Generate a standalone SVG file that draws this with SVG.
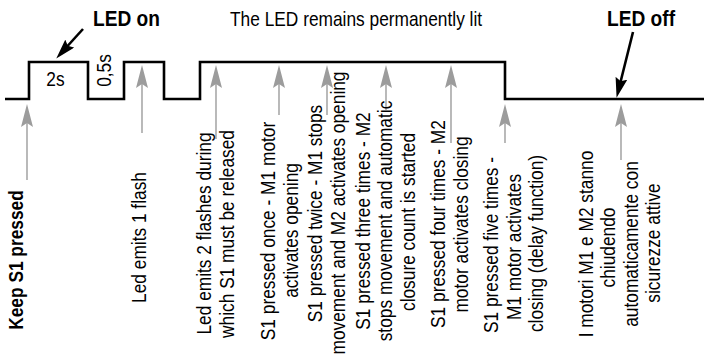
<svg xmlns="http://www.w3.org/2000/svg" width="704" height="355" viewBox="0 0 704 355">
<style>
text{font-family:"Liberation Sans",Arial,sans-serif;font-size:20.5px;fill:#000}
.b{font-weight:bold}
.big{font-size:22px;font-weight:bold}
.m{text-anchor:middle}
.wave{fill:none;stroke:#000;stroke-width:2.6;stroke-linejoin:miter}
.ga{stroke:#9c9c9c;stroke-width:1.4;fill:none;marker-end:url(#gh)}
.ba{stroke:#000;stroke-width:2.6;fill:none;marker-end:url(#bh)}
</style>
<defs>
<marker id="gh" markerUnits="userSpaceOnUse" viewBox="0 0 23 12" refX="13" refY="6" markerWidth="23" markerHeight="12" orient="auto">
<path d="M0,0 L23,6 L0,12 L4,6 Z" fill="#9c9c9c"/>
</marker>
<marker id="bh" markerUnits="userSpaceOnUse" viewBox="0 0 20 12" refX="10" refY="6" markerWidth="20" markerHeight="12" orient="auto">
<path d="M0,0 L20,6 L0,12 L3,6 Z" fill="#000"/>
</marker>
</defs>
<rect width="704" height="355" fill="#fff"/>
<g id="waveform">
<path class="wave" d="M5,99 H29 V62 H88 V99 H124 V62 H164 V99 H200 V62 H505 V99 H704"/>
</g>
<g id="connectors">
<line class="ga" x1="27" y1="180" x2="27" y2="114"/>
<line class="ga" x1="142" y1="133" x2="142" y2="75"/>
<line class="ga" x1="216" y1="139" x2="216" y2="75"/>
<line class="ga" x1="279" y1="115" x2="279" y2="75"/>
<line class="ga" x1="327" y1="115" x2="327" y2="75"/>
<line class="ga" x1="386" y1="110" x2="386" y2="75"/>
<line class="ga" x1="451" y1="143" x2="451" y2="75"/>
<line class="ga" x1="505" y1="143" x2="505" y2="114"/>
<line class="ga" x1="621" y1="160" x2="621" y2="114"/>
<line class="ba" x1="83" y1="29" x2="63" y2="51"/>
<line class="ba" x1="633" y1="32" x2="619" y2="88"/>
</g>
<g id="top-labels">
<text class="big" transform="translate(93,25.5) scale(0.87,1)">LED on</text>
<text transform="translate(230,26) scale(0.845,1)">The LED remains permanently lit</text>
<text class="big" transform="translate(607,26) scale(0.87,1)">LED off</text>
<text class="m" transform="translate(55.5,86) scale(0.845,1)">2s</text>
<text class="m" transform="translate(110.5,70.5) rotate(-90) scale(0.845,1)">0,5s</text>
</g>
<g id="step-keep">
<text class="b m" transform="translate(23,260) rotate(-90) scale(0.845,1)">Keep S1 pressed</text>
</g>
<g id="step-flash1">
<text class="m" transform="translate(146,237.5) rotate(-90) scale(0.845,1)">Led emits 1 flash</text>
</g>
<g id="step-flash2">
<text class="m" transform="translate(210.5,233.5) rotate(-90) scale(0.845,1)">Led emits 2 flashes during</text>
<text class="m" transform="translate(233.5,234) rotate(-90) scale(0.845,1)">which S1 must be released</text>
</g>
<g id="step-once">
<text class="m" transform="translate(274.5,231) rotate(-90) scale(0.845,1)">S1 pressed once - M1 motor</text>
<text class="m" transform="translate(297.5,230.5) rotate(-90) scale(0.845,1)">activates opening</text>
</g>
<g id="step-twice">
<text class="m" transform="translate(321.5,213.5) rotate(-90) scale(0.845,1)">S1 pressed twice - M1 stops</text>
<text class="m" transform="translate(344.5,213) rotate(-90) scale(0.845,1)">movement and M2 activates opening</text>
</g>
<g id="step-three">
<text class="m" transform="translate(369.5,221) rotate(-90) scale(0.845,1)">S1 pressed three times - M2</text>
<text class="m" transform="translate(392,221) rotate(-90) scale(0.845,1)">stops movement and automatic</text>
<text class="m" transform="translate(414.5,222) rotate(-90) scale(0.845,1)">closure count is started</text>
</g>
<g id="step-four">
<text class="m" transform="translate(444.5,224) rotate(-90) scale(0.845,1)">S1 pressed four times - M2</text>
<text class="m" transform="translate(467.5,224.5) rotate(-90) scale(0.845,1)">motor activates closing</text>
</g>
<g id="step-five">
<text class="m" transform="translate(497.5,245) rotate(-90) scale(0.845,1)">S1 pressed five times -</text>
<text class="m" transform="translate(520.5,247) rotate(-90) scale(0.845,1)">M1 motor activates</text>
<text class="m" transform="translate(543,243.5) rotate(-90) scale(0.845,1)">closing (delay function)</text>
</g>
<g id="step-closing">
<text class="m" transform="translate(593,244) rotate(-90) scale(0.845,1)">I motori M1 e M2 stanno</text>
<text class="m" transform="translate(615,247.5) rotate(-90) scale(0.845,1)">chiudendo</text>
<text class="m" transform="translate(637.5,244) rotate(-90) scale(0.845,1)">automaticamente con</text>
<text class="m" transform="translate(659.5,243) rotate(-90) scale(0.845,1)">sicurezze attive</text>
</g>
</svg>
